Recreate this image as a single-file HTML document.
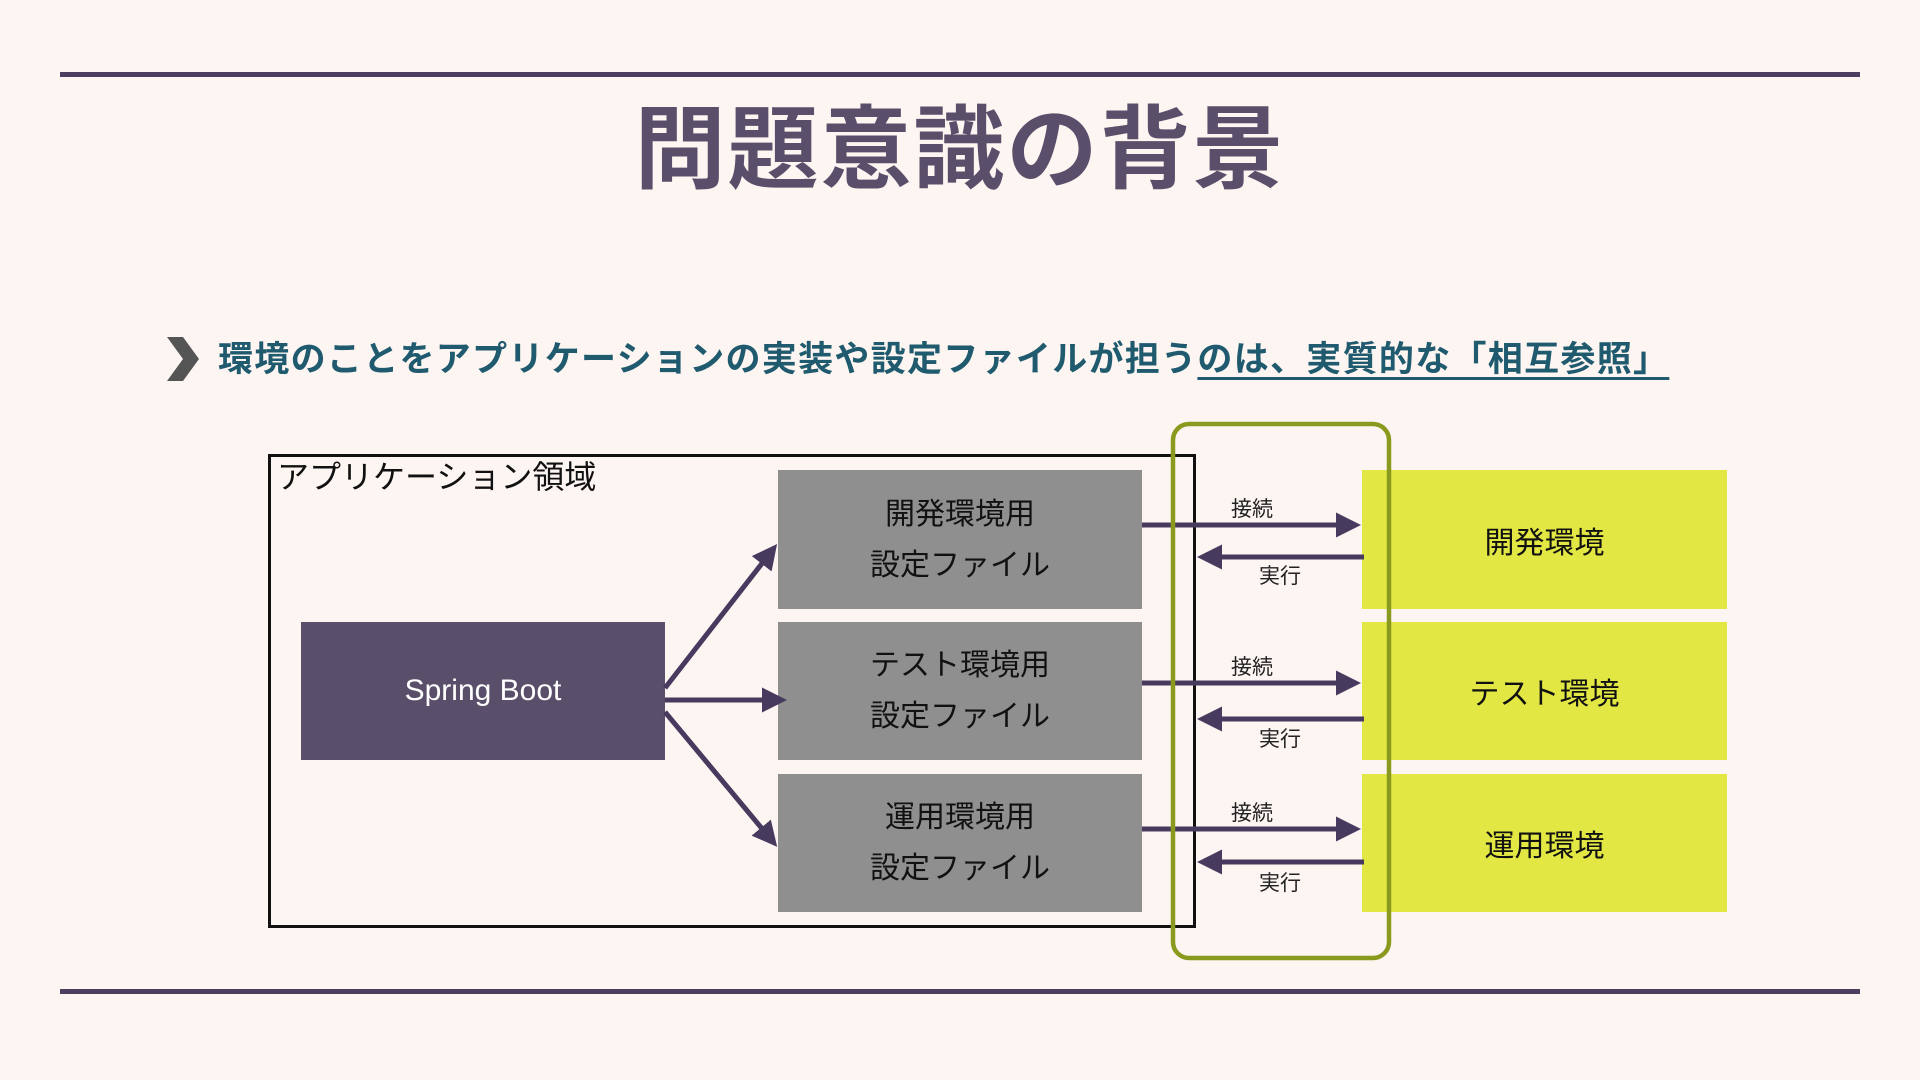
<!DOCTYPE html>
<html><head><meta charset="utf-8"><style>
body{margin:0;width:1920px;height:1080px;background:#fdf5f2;position:relative;overflow:hidden;font-family:"Liberation Sans","Noto Sans CJK JP",sans-serif}
.a{position:absolute}
.box{position:absolute;display:flex;flex-direction:column;align-items:center;justify-content:center;text-align:center}
</style></head><body>
<div class="a" style="left:60px;top:72px;width:1800px;height:5px;background:#4a3f5e"></div>
<div class="a" style="left:60px;top:989px;width:1800px;height:5px;background:#4a3f5e"></div>
<div class="a" style="left:0;width:1920px;top:101px;text-align:center;font-size:91px;font-weight:bold;color:#5a4f6a;line-height:100px;letter-spacing:2px">問題意識の背景</div>
<svg class="a" style="left:165px;top:335px" width="36" height="48"><polygon points="2,2 18,2 34,24 18,46 2,46 18,24" fill="#555"/></svg>
<div class="a" style="left:218px;top:338px;font-size:35px;font-weight:bold;color:#1f5a6e;line-height:44px;white-space:nowrap;letter-spacing:1.3px">環境のことをアプリケーションの実装や設定ファイルが担う<span style="text-decoration:underline;text-underline-offset:6px">のは、実質的な「相互参照」 </span></div>
<div class="a" style="left:268px;top:454px;width:922px;height:468px;border:3px solid #111"></div>
<div class="a" style="left:277px;top:457px;font-size:32px;color:#111;line-height:40px">アプリケーション領域</div>
<div class="box" style="left:301px;top:622px;width:364px;height:138px;background:#5a4f6a;color:#fff;font-size:30px">Spring Boot</div>
<div class="box" style="left:778px;top:470px;width:364px;height:139px;background:#8f8f8f;color:#111;font-size:30px;line-height:51px">開発環境用<br>設定ファイル</div>
<div class="box" style="left:778px;top:622px;width:364px;height:138px;background:#8f8f8f;color:#111;font-size:30px;line-height:51px">テスト環境用<br>設定ファイル</div>
<div class="box" style="left:778px;top:774px;width:364px;height:138px;background:#8f8f8f;color:#111;font-size:30px;line-height:51px">運用環境用<br>設定ファイル</div>
<div class="box" style="left:1362px;top:470px;width:365px;height:139px;background:#e2e744;color:#111;font-size:30px">開発環境</div>
<div class="box" style="left:1362px;top:622px;width:365px;height:138px;background:#e2e744;color:#111;font-size:30px">テスト環境</div>
<div class="box" style="left:1362px;top:774px;width:365px;height:138px;background:#e2e744;color:#111;font-size:30px">運用環境</div>
<svg class="a" style="left:0;top:0" width="1920" height="1080">
<defs><marker id="m" markerWidth="5" markerHeight="5" refX="4" refY="2.5" orient="auto" markerUnits="strokeWidth"><polygon points="0,0 5,2.5 0,5" fill="#463a5e"/></marker></defs>
<g stroke="#463a5e" stroke-width="5" fill="none" marker-end="url(#m)">
<line x1="665" y1="688" x2="774" y2="548"/>
<line x1="665" y1="700" x2="782" y2="700"/>
<line x1="665" y1="712" x2="774" y2="843"/>
<line x1="1142" y1="525" x2="1356" y2="525"/>
<line x1="1364" y1="557" x2="1202" y2="557"/>
<line x1="1142" y1="683" x2="1356" y2="683"/>
<line x1="1364" y1="719" x2="1202" y2="719"/>
<line x1="1142" y1="829" x2="1356" y2="829"/>
<line x1="1364" y1="862" x2="1202" y2="862"/>
</g>
<rect x="1173" y="424" width="216" height="534" rx="16" fill="none" stroke="#8a9a1e" stroke-width="4.5"/>
<g font-size="21" fill="#222" text-anchor="middle" font-family="Liberation Sans,Noto Sans CJK JP,sans-serif">
<text x="1252" y="516">接続</text><text x="1280" y="583">実行</text>
<text x="1252" y="674">接続</text><text x="1280" y="746">実行</text>
<text x="1252" y="820">接続</text><text x="1280" y="890">実行</text>
</g>
</svg>
</body></html>
